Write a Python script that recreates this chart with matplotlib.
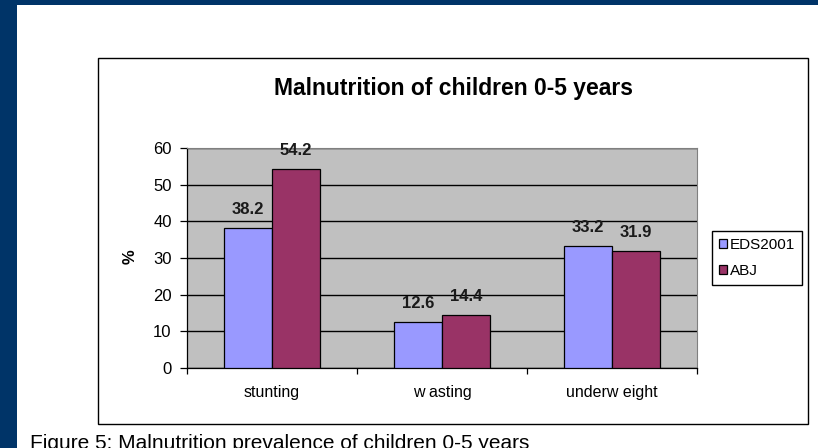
import numpy as np
import matplotlib.pyplot as plt
import matplotlib.patches as mpatches

# data
categories = ["stunting", "w asting", "underw eight"]
series_names = ["EDS2001", "ABJ"]
eds2001 = [38.2, 12.6, 33.2]
abj = [54.2, 14.4, 31.9]
yticks = [0, 10, 20, 30, 40, 50, 60]

W, H = 818, 448
fig = plt.figure(figsize=(W / 100, H / 100), dpi=100)
fig.patch.set_facecolor("white")
plt.rcParams['font.family'] = ['Liberation Sans', 'DejaVu Sans']

def px(x, y):
    return x / W, 1 - y / H

# dark blue slide border
navy = "#003468"
fig.add_artist(mpatches.Rectangle((0, 0), 17 / W, 1, transform=fig.transFigure,
                                  color=navy, lw=0, zorder=-2))
fig.add_artist(mpatches.Rectangle((0, 1 - 5 / H), 1, 5 / H, transform=fig.transFigure,
                                  color=navy, lw=0, zorder=-2))

# chart box
fig.add_artist(mpatches.Rectangle(px(98, 424), 710 / W, 366 / H, transform=fig.transFigure,
                                  facecolor="white", edgecolor="black", lw=1.0, zorder=-1))

# plot area
ax = fig.add_axes([187 / W, 80 / H, 510 / W, 220 / H])
ax.set_facecolor("#C0C0C0")
x = np.arange(len(categories))
bw = 0.2824
b1 = ax.bar(x - bw / 2, eds2001, bw, color="#9999FF", edgecolor="black", lw=0.9,
            label=series_names[0], zorder=3)
b2 = ax.bar(x + bw / 2, abj, bw, color="#993366", edgecolor="black", lw=0.9,
            label=series_names[1], zorder=3)

for bars in (b1, b2):
    for rect in bars:
        v = rect.get_height()
        ax.annotate(f"{v:.1f}", (rect.get_x() + rect.get_width() / 2, v),
                    xytext=(0, 13.5), textcoords="offset points",
                    ha="center", va="center", fontsize=12, fontweight="bold",
                    color="#1a1a1a")

ax.set_ylim(0, 60)
ax.set_xlim(-0.5, 2.5)
ax.set_yticks(yticks)
ax.yaxis.grid(True, color="black", lw=1.0, zorder=1)
ax.set_axisbelow(True)
ax.set_xticks([-0.5, 0.5, 1.5, 2.5])
ax.set_xticklabels([])
ax.tick_params(axis="x", direction="out", length=4, width=0.9)
ax.tick_params(axis="y", direction="out", length=5, width=0.9, labelsize=12, pad=6)
for xi, c in zip(x, categories):
    ax.text(xi, -6.8, c, ha="center", va="center", fontsize=11.5)

for s in ("top", "right"):
    ax.spines[s].set_color("#808080")
    ax.spines[s].set_linewidth(0.8)
for s in ("left", "bottom"):
    ax.spines[s].set_color("black")
    ax.spines[s].set_linewidth(0.9)

ax.text(*px(130, 257), "%", transform=fig.transFigure, rotation=90,
        ha="center", va="center", fontsize=12, fontweight="bold")

# legend
leg = fig.legend(handles=[b1, b2], labels=series_names, loc="center left",
                 bbox_to_anchor=px(712, 258), fontsize=11, frameon=True,
                 fancybox=False, edgecolor="black", framealpha=1,
                 handlelength=0.55, handleheight=0.55, handletextpad=0.15,
                 borderpad=0.45, labelspacing=0.8, borderaxespad=0)
leg.get_frame().set_linewidth(1.0)

# title
fig.text(*px(453, 88), "Malnutrition of children 0-5 years", ha="center", va="center",
         fontsize=16.5, fontweight="bold")

# caption (cut off at bottom as in slide)
fig.text(*px(30, 449), "Figure 5: Malnutrition prevalence of children 0-5 years",
         ha="left", va="baseline", fontsize=15)

fig.savefig("out.png", dpi=100)
